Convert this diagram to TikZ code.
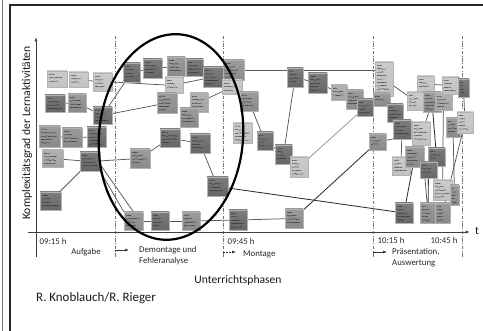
\documentclass[tikz,border=0pt]{standalone}
\usepackage{fontspec}
\setmainfont{Carlito}
\usetikzlibrary{arrows.meta,decorations.pathmorphing,backgrounds}

\definecolor{noteL}{gray}{0.76}
\definecolor{noteK}{gray}{0.64}
\definecolor{noteM}{gray}{0.54}
\definecolor{noteD}{gray}{0.40}

\tikzset{
  postit/.style={rectangle, draw=black!30, line width=0.4pt, inner sep=0pt, outer sep=0pt},
  scribble/.style={draw=black!85, line width=0.35pt, decorate,
    decoration={random steps, segment length=1.1pt, amplitude=0.45pt}},
  link/.style={draw=black!65, line width=0.75pt},
  linkd/.style={draw=black!82, line width=0.85pt},
  linkl/.style={draw=black!42, line width=0.75pt},
  phase/.style={draw=black!55, line width=0.6pt, dash pattern=on 3.5pt off 1.5pt on 1pt off 1.5pt},
  axis/.style={draw=black!75, line width=0.8pt, -{Latex[length=4.5pt,width=3.2pt]}},
  phasearrow/.style={draw=black!80, line width=0.6pt, -{Latex[length=4pt,width=3pt]}},
  lbl/.style={font=\fontsize{8.8}{10.8}\selectfont, text=black!85, inner sep=0pt},
  big/.style={font=\fontsize{11.6}{13.5}\selectfont, text=black!90, inner sep=0pt},
}

% sticky note: name, x1, y1, x2, y2, colour
\newcommand\postit[6]{%
  \pgfmathsetmacro\pcx{(#2+#4)/2}%
  \pgfmathsetmacro\pcy{(#3+#5)/2}%
  \pgfmathsetmacro\pw{#4-#2}%
  \pgfmathsetmacro\ph{#5-#3}%
  \node[postit, top color=#6!85!white, bottom color=#6,
        minimum width=\pw pt, minimum height=\ph pt] (#1) at (\pcx,\pcy) {};
  \pgfmathtruncatemacro\nrows{(\ph-3)/3.4}%
  \foreach \k in {1,...,\nrows}{%
    \pgfmathsetmacro\len{(\pw-4)*(0.45+0.5*rnd)}%
    \ifnum\k=1 \pgfmathsetmacro\len{(\pw-4)*0.35}\fi
    \draw[scribble] (#2+2,#3+\k*3.4) -- ++(\len,0);
  }%
}

\begin{document}
\pgfmathsetseed{7}
\begin{tikzpicture}[x=1pt, y=-1pt]
\useasboundingbox (0,0) rectangle (483,331);

% page frame
\draw[black!55, line width=0.8pt] (2.5,0) -- (2.5,331);
\draw[black!85, line width=1.3pt] (10,331) -- (10,5) -- (483,5);

% phase separators
\foreach \px/\pn in {115/s1, 223/s2, 373/s3, 462/s4}{
  \coordinate (\pn top) at (\px,36);
  \coordinate (\pn bot) at (\px,258);
  \draw[phase] (\pn top) -- (\pn bot);
}

% axes
\coordinate (yfoot) at (36,257);
\coordinate (ytip) at (36,37);
\coordinate (xfoot) at (28,232);
\coordinate (xtip) at (470,232);
\draw[axis] (yfoot) -- (ytip);
\draw[axis] (xfoot) -- (xtip);
\node[big] (tlab) at (477,231) {t};
\node[big, rotate=90] (ylab) at (27,133) {Komplexitätsgrad der Lernaktivitäten};

% time marks and phases
\node[lbl] (t1) at (53,241) {09:15 h};
\node[lbl] (t2) at (241,241) {09:45 h};
\node[lbl] (t3) at (391,240) {10:15 h};
\node[lbl] (t4) at (444,240) {10:45 h};
\node[lbl] (p1) at (86,252) {Aufgabe};
\node[lbl, anchor=west, align=left] (p2) at (139,256) {Demontage und\\Fehleranalyse};
\node[lbl, anchor=west] (p3) at (243,254) {Montage};
\node[lbl, anchor=west, align=left] (p4) at (392,258) {Präsentation,\\Auswertung};
\coordinate (a1s) at (115,250); \coordinate (a1e) at (129,250);
\coordinate (a2s) at (223,252); \coordinate (a2e) at (236,252);
\coordinate (a3s) at (373,252); \coordinate (a3e) at (387,252);
\draw[phasearrow] (a1s) -- (a1e);
\draw[phasearrow, dash pattern=on 2pt off 1pt] (a2s) -- (a2e);
\draw[phasearrow] (a3s) -- (a3e);
\node[big] (xlab) at (238,280) {Unterrichtsphasen};
\node[big, anchor=west, font=\fontsize{12.9}{15}\selectfont] (auth) at (36,298) {R. Knoblauch/R. Rieger};

% ---- notes: task phase
\postit{a1}{47}{71}{67}{87}{noteL}
\postit{a2}{69}{72}{88}{87}{noteL}
\postit{a3}{93}{73}{112}{91}{noteL}
\postit{a4}{45}{95}{65}{112}{noteD}
\postit{a5}{68}{94}{86}{112}{noteM}
\postit{a6}{93}{107}{112}{124}{noteD}
\postit{a7}{39}{126}{60}{147}{noteM}
\postit{a8}{62}{128}{82}{147}{noteM}
\postit{a9}{87}{127}{106}{147}{noteD}
\postit{a10}{42}{150}{63}{167}{noteK}
\postit{a11}{80}{152}{100}{171}{noteD}
\postit{a12}{40}{192}{61}{210}{noteD}

% ---- notes: dismantling and fault analysis
\postit{b1}{123}{63}{140}{82}{noteD}
\postit{b2}{143}{59}{162}{78}{noteD}
\postit{b3}{167}{57}{185}{76}{noteM}
\postit{b4}{186}{59}{203}{76}{noteD}
\postit{b5}{165}{77}{183}{93}{noteL}
\postit{b6}{203}{67}{223}{87}{noteD}
\postit{b7}{157}{93}{177}{113}{noteM}
\postit{b8}{190}{93}{208}{112}{noteK}
\postit{b9}{180}{108}{198}{127}{noteM}
\postit{b10}{160}{129}{180}{147}{noteD}
\postit{b11}{190}{134}{210}{153}{noteD}
\postit{b12}{130}{149}{150}{168}{noteM}
\postit{b13}{207}{177}{228}{196}{noteD}
\postit{b14}{124}{212}{143}{230}{noteM}
\postit{b15}{151}{212}{169}{230}{noteD}
\postit{b16}{182}{212}{200}{230}{noteM}

% ---- notes: assembly
\postit{c1}{223}{60}{244}{80}{noteM}
\postit{c2}{222}{80}{242}{94}{noteL}
\postit{c3}{240}{92}{258}{111}{noteM}
\postit{c4}{233}{123}{252}{143}{noteL}
\postit{c5}{229}{210}{247}{230}{noteD}
\postit{c6}{257}{132}{273}{150}{noteD}
\postit{c7}{275}{145}{292}{164}{noteD}
\postit{c8}{290}{157}{308}{177}{noteL}
\postit{c9}{285}{209}{303}{228}{noteM}
\postit{c10}{287}{68}{303}{87}{noteD}
\postit{c11}{308}{73}{327}{93}{noteD}
\postit{c12}{331}{85}{347}{100}{noteK}
\postit{c13}{346}{90}{363}{109}{noteM}
\postit{c14}{357}{99}{373}{116}{noteD}

% ---- notes: presentation and evaluation
\postit{d1}{375}{62}{393}{96}{noteL}
\postit{d2}{373}{93}{390}{106}{noteM}
\postit{d3}{387}{104}{403}{122}{noteD}
\postit{d4}{393}{120}{411}{139}{noteD}
\postit{d5}{407}{92}{423}{110}{noteL}
\postit{d6}{417}{76}{434}{92}{noteL}
\postit{d7}{423}{92}{441}{112}{noteM}
\postit{d8}{435}{93}{452}{110}{noteK}
\postit{d9}{442}{77}{459}{94}{noteL}
\postit{d10}{458}{79}{469}{97}{noteD}
\postit{d11}{446}{118}{460}{137}{noteM}
\postit{d12}{457}{112}{473}{133}{noteL}
\postit{d13}{412}{122}{430}{145}{noteL}
\postit{d14}{369}{134}{386}{150}{noteM}
\postit{d15}{392}{157}{410}{175}{noteL}
\postit{d16}{405}{147}{424}{167}{noteM}
\postit{d17}{428}{148}{445}{166}{noteD}
\postit{d18}{420}{162}{437}{178}{noteD}
\postit{d19}{433}{180}{452}{200}{noteL}
\postit{d20}{450}{185}{459}{205}{noteM}
\postit{d21}{395}{203}{413}{223}{noteD}
\postit{d22}{420}{203}{436}{223}{noteM}
\postit{d23}{435}{203}{450}{223}{noteM}

% ---- connections between activities
\begin{scope}[on background layer]
  \draw[link] (a2) -- (a3);
  \draw[link] (a3.east) -- (b5.west);
  \draw[link] (b5) -- (b6);
  \draw[link] (a4) -- (a5);
  \draw[link] (a5) -- (a6);
  \draw[link] (a6) -- (b1);
  \draw[link] (a6) -- (b7);
  \draw[link] (a7) -- (a8);
  \draw[link] (a8) -- (a9);
  \draw[link] (a10) -- (a11);
  \draw[link] (a11) -- (b12);
  \draw[link] (a12) -- (a11);
  \draw[link] (a11.south east) -- (b14.north west);
  \draw[link] (a11.-15) -- (b14.north);
  \draw[link] (b1) -- (b2);
  \draw[link] (b2) -- (b3);
  \draw[link] (b12) -- (b10);
  \draw[link] (b10) -- (b11);
  \draw[link] (b11) -- (b13);
  \draw[link] (b8) -- (c2);
  \draw[link] (b14) -- (b15);
  \draw[link] (b15) -- (b16);
  \draw[link] (b16) -- (c5);
  \draw[link] (c5) -- (c9);
  \draw[linkd] (b13) -- (d21);
  \draw[linkd] (c9) -- (d14);
  \draw[link] (c1.east) -- (d1.west |- c1.east);
  \draw[link] (c3) -- (c6);
  \draw[link] (c6) -- (c7);
  \draw[link] (c7) -- (c8);
  \draw[link] (c10) -- (c7);
  \draw[link] (c10) -- (c11);
  \draw[link] (c11) -- (c12);
  \draw[linkl] (c8) -- (c14);
  \draw[link] (d1) -- (d5);
  \draw[link] (d6) -- (d9);
  \draw[link] (d3) -- (d4);
  \draw[link] (d14) -- (d13);
  \draw[linkd] (d16) -- (d21);
  \draw[link] (d7) -- (d16);
  \draw[linkd] (d7) -- (d17);
  \draw[link] (d13) -- (d22);
  \draw[link] (d8) -- (d19);
  \draw[link] (d11) -- (d20);
  \draw[link] (d12) -- (d23);
  \draw[linkd] (d18) -- (d22);
  \draw[link] (d4) -- (d15);
  \draw[link] (d10) -- (d12);
\end{scope}

% focus of the lesson
\coordinate (focus) at (171,137);
\draw[black, line width=2.2pt, rotate around={-5:(focus)}] (focus) ellipse [x radius=72, y radius=103];

\end{tikzpicture}
\end{document}
